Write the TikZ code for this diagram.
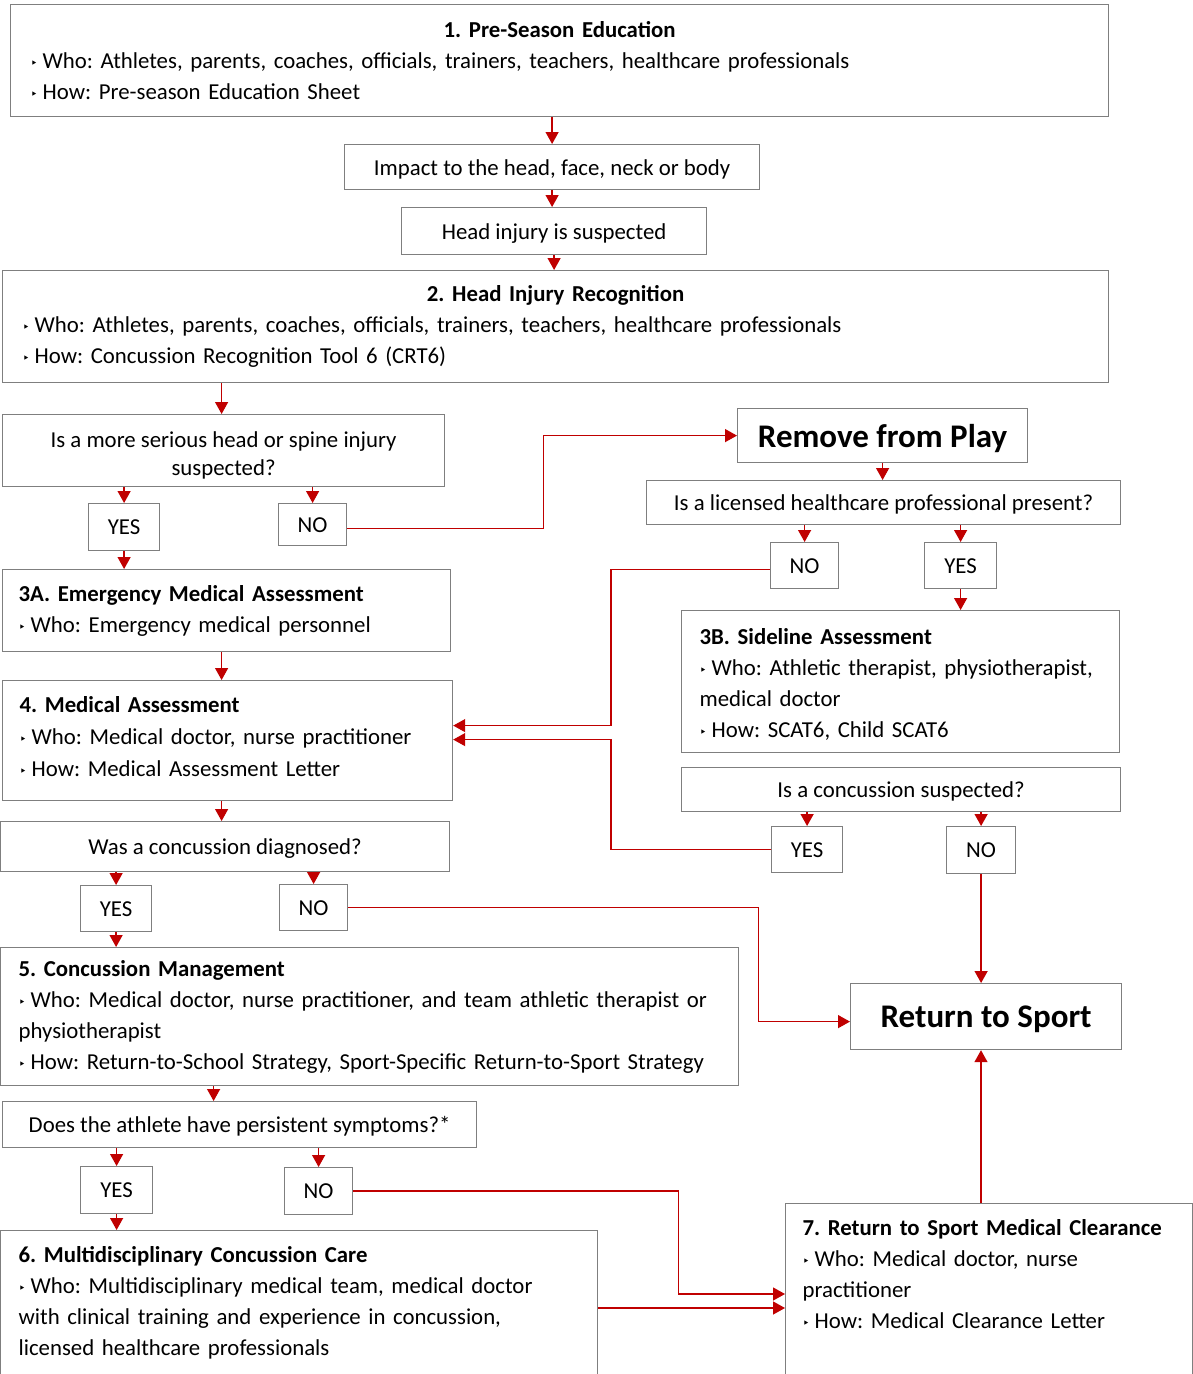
\documentclass[tikz,border=0pt]{standalone}
\usepackage{fontspec}
\setmainfont{Carlito}
\newfontfamily\trifont{DejaVu Sans}
\usetikzlibrary{arrows.meta}
\definecolor{flowred}{HTML}{C00000}
\definecolor{boxgray}{HTML}{7F7F7F}
\newcommand{\tri}{{\trifont\fontsize{12}{12}\selectfont\raisebox{1pt}{‣}}\hspace{5pt}}
\newcommand{\boxtitle}[1]{\makebox[\hsize][c]{\textbf{#1}}}
\frenchspacing

\begin{document}
\begin{tikzpicture}[x=1pt, y=-1pt,
    plainbox/.style={draw=boxgray, line width=1.2pt, anchor=north west, inner sep=0pt,
        font=\fontsize{22.8}{31}\selectfont},
    linebox/.style={plainbox, text depth=0pt},
    textbox/.style={plainbox, align=left, inner xsep=17pt},
    bigbox/.style={linebox, font=\fontsize{33}{38}\selectfont\bfseries},
    arr/.style={draw=flowred, line width=1.3pt, -{Triangle[width=13pt,length=12pt]}}]
    \useasboundingbox (0,0) rectangle (1193,1374);
    \fill[white] (0,0) rectangle (1193,1374);

    % 1. Pre-season education
    \node[textbox, inner xsep=20pt, text width=1058pt, minimum height=112pt] (pre) at (10,4)
        {\boxtitle{1. Pre-Season Education}\\
         \tri Who: Athletes, parents, coaches, officials, trainers, teachers, healthcare professionals\\
         \tri How: Pre-season Education Sheet};
    \node[linebox, minimum width=415pt, minimum height=45pt] (impact) at (344,144) {Impact to the head, face, neck or body};
    \node[linebox, minimum width=305pt, minimum height=47pt] (suspect) at (401,207) {Head injury is suspected};

    % 2. Head injury recognition
    \node[textbox, inner xsep=20pt, text width=1066pt, minimum height=112pt] (recog) at (2,270)
        {\boxtitle{2. Head Injury Recognition}\\
         \tri Who: Athletes, parents, coaches, officials, trainers, teachers, healthcare professionals\\
         \tri How: Concussion Recognition Tool 6 (CRT6)};
    \node[linebox, align=center, minimum width=442pt, minimum height=72pt,
        font=\fontsize{22.8}{28}\selectfont] (serious) at (2,414)
        {\rule{0pt}{22pt}Is a more serious head or spine injury\\suspected?};
    \node[linebox, minimum width=71pt, minimum height=47pt] (yes1) at (88,503) {YES};
    \node[linebox, minimum width=68pt, minimum height=42pt] (no1) at (278,503) {NO};

    % Remove from play branch
    \node[bigbox, minimum width=290pt, minimum height=54pt] (remove) at (737,408) {Remove from Play};
    \node[linebox, minimum width=474pt, minimum height=44pt] (licensed) at (646,480) {Is a licensed healthcare professional present?};
    \node[linebox, minimum width=68pt, minimum height=46pt] (no2) at (770,542) {NO};
    \node[linebox, minimum width=72pt, minimum height=46pt] (yes2) at (924,542) {YES};

    % 3A / 3B assessments
    \node[textbox, inner xsep=16pt, text width=416pt, minimum height=82pt] (ema) at (2,569)
        {\textbf{3A. Emergency Medical Assessment}\\
         \tri Who: Emergency medical personnel};
    \node[textbox, inner xsep=18pt, text width=402pt, minimum height=142pt] (sideline) at (681,610)
        {\rule{0pt}{22pt}\textbf{3B. Sideline Assessment}\\
         \tri Who: Athletic therapist, physiotherapist,\\
         medical doctor\\
         \tri How: SCAT6, Child SCAT6};
    \node[linebox, minimum width=439pt, minimum height=44pt] (csusp) at (681,767) {Is a concussion suspected?};
    \node[linebox, minimum width=71pt, minimum height=46pt] (yes3) at (771,826) {YES};
    \node[linebox, minimum width=69pt, minimum height=47pt] (no3) at (946,826) {NO};

    % 4. Medical assessment
    \node[textbox, text width=416pt, minimum height=120pt, font=\fontsize{22.8}{32}\selectfont] (med) at (2,680)
        {\textbf{4. Medical Assessment}\\
         \tri Who: Medical doctor, nurse practitioner\\
         \tri How: Medical Assessment Letter\rule[-9pt]{0pt}{0pt}};
    \node[linebox, minimum width=449pt, minimum height=50pt] (diag) at (0,821) {Was a concussion diagnosed?};
    \node[linebox, minimum width=71pt, minimum height=46pt] (yes4) at (80,885) {YES};
    \node[linebox, minimum width=68pt, minimum height=46pt] (no4) at (279,884) {NO};

    % Return to sport
    \node[bigbox, minimum width=271pt, minimum height=66pt] (rts) at (850,983) {Return to Sport};

    % 5. Concussion management
    \node[textbox, inner xsep=18pt, text width=702pt, minimum height=138pt] (cm) at (0,947)
        {\textbf{5. Concussion Management}\\
         \tri Who: Medical doctor, nurse practitioner, and team athletic therapist or\\
         physiotherapist\\
         \tri How: Return-to-School Strategy, Sport-Specific Return-to-Sport Strategy};
    \node[linebox, minimum width=474pt, minimum height=46pt] (pq) at (2,1101) {Does the athlete have persistent symptoms?*};
    \node[linebox, minimum width=72pt, minimum height=47pt] (yes5) at (80,1166) {YES};
    \node[linebox, minimum width=68pt, minimum height=47pt] (no5) at (284,1167) {NO};

    % 6. / 7. (cut at the bottom edge)
    \node[textbox, inner xsep=18pt, inner ysep=16pt, text width=561pt] (mdc) at (0,1230)
        {\textbf{6. Multidisciplinary Concussion Care}\\
         \tri Who: Multidisciplinary medical team, medical doctor\\
         with clinical training and experience in concussion,\\
         licensed healthcare professionals\rule[-100pt]{0pt}{0pt}};
    \node[textbox, inner ysep=16pt, text width=373pt] (rtc) at (785,1203)
        {\textbf{7. Return to Sport Medical Clearance}\\
         \tri Who: Medical doctor, nurse\\
         practitioner\\
         \tri How: Medical Clearance Letter\rule[-100pt]{0pt}{0pt}};

    % Arrows
    \draw[arr] (impact.north |- pre.south) -- (impact.north);
    \draw[arr] (impact.south) -- (impact.south |- suspect.north);
    \draw[arr] (suspect.south) -- (suspect.south |- recog.north);
    \draw[arr] ([xshift=-2pt]serious.north |- recog.south) -- ([xshift=-2pt]serious.north);
    \draw[arr] (yes1.north |- serious.south) -- (yes1.north);
    \draw[arr] (no1.north |- serious.south) -- (no1.north);
    \draw[arr] (yes1.south) -- (yes1.south |- ema.north);
    \draw[arr] ([yshift=-4pt]no1.east) -- ++(196,0) |- (remove.west);
    \draw[arr] (remove.south) -- (remove.south |- licensed.north);
    \draw[arr] (no2.north |- licensed.south) -- (no2.north);
    \draw[arr] (yes2.north |- licensed.south) -- (yes2.north);
    \draw[arr] (yes2.south) -- (yes2.south |- sideline.north);
    \draw[arr] ([yshift=-4pt]no2.west) -- ++(-159,0) |- ([yshift=15pt]med.east);
    \draw[arr] ([xshift=-5pt]ema.south) -- ([xshift=-5pt]ema.south |- med.north);
    \draw[arr] (yes3.north |- csusp.south) -- (yes3.north);
    \draw[arr] (no3.north |- csusp.south) -- (no3.north);
    \draw[arr] (yes3.west) -- ++(-160,0) |- ([yshift=1pt]med.east);
    \draw[arr] (no3.south) -- (no3.south |- rts.north);
    \draw[arr] ([xshift=-6pt]med.south) -- ([xshift=-6pt]med.south |- diag.north);
    \draw[arr] (yes4.north |- diag.south) -- (yes4.north);
    \draw[arr] (no4.north |- diag.south) -- (no4.north);
    \draw[arr] (yes4.south) -- (yes4.south |- cm.north);
    \draw[arr] (no4.east) -- ++(410,0) |- ([yshift=-5pt]rts.west);
    \draw[arr] ([xshift=-26pt]pq.north |- cm.south) -- ([xshift=-26pt]pq.north);
    \draw[arr] (yes5.north |- pq.south) -- (yes5.north);
    \draw[arr] (no5.north |- pq.south) -- (no5.north);
    \draw[arr] (yes5.south) -- (yes5.south |- mdc.north);
    \draw[arr] (no5.east) -- ++(325,0) |- ([yshift=-91pt]rtc.north west);
    \draw[arr] ([yshift=-78pt]mdc.north east) -- ([yshift=-78pt]mdc.north east -| rtc.west);
    \draw[arr] ([xshift=196pt]rtc.north west) -- ([xshift=196pt]rtc.north west |- rts.south);
\end{tikzpicture}
\end{document}
